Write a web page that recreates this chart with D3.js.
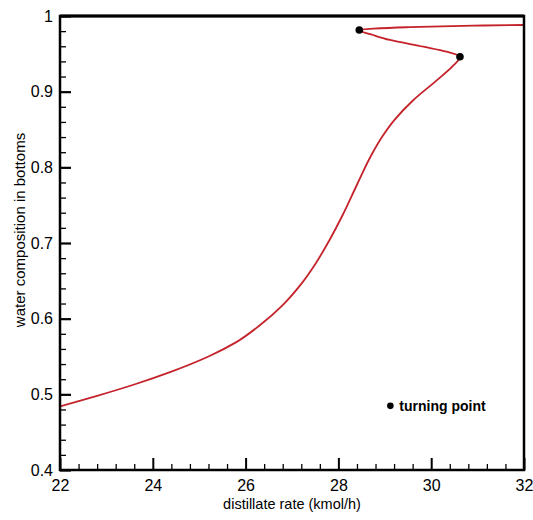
<!DOCTYPE html>
<html>
<head>
<meta charset="utf-8">
<script src="https://cdn.jsdelivr.net/npm/d3@7"></script>
<style>
  body { margin: 0; background: #fff; }
  text { font-family: "Liberation Sans", Arial, Helvetica, sans-serif; fill: #000; }
  .axis path.domain { display: none; }
  .axis line { stroke: #000; }
  .axis text { font-family: "Liberation Sans", Arial, Helvetica, sans-serif; font-size: 16px; fill: #000; }
</style>
</head>
<body>
<div id="chart"></div>
<script>
// curve, in drawing order (lower branch -> turning points -> upper branch)
// the bottoms composition rises all the way along it, so it is drawn as x = f(y)
var distillate = [22.00, 22.80, 23.60, 24.40, 25.20, 25.80, 26.30, 26.80, 27.20, 27.50,
                  27.80, 28.10, 28.40, 28.70, 28.95, 29.20, 29.60, 30.10, 30.45, 30.62,
                  30.33, 29.83, 29.11, 28.75, 28.45, 28.75, 29.47, 30.91, 31.98, 32.40];
var waterBottoms = [0.4840, 0.4980, 0.5130, 0.5300, 0.5500, 0.5690, 0.5910, 0.6180, 0.6460, 0.6720,
                    0.7030, 0.7380, 0.7770, 0.8150, 0.8410, 0.8620, 0.8880, 0.9140, 0.9330, 0.9462,
                    0.9528, 0.9594, 0.9683, 0.9749, 0.9815, 0.9832, 0.9851, 0.9872, 0.9881, 0.9883];

var turnX = [28.45, 30.62];
var turnY = [0.9815, 0.9462];

var xTicks = [22, 24, 26, 28, 30, 32];
var yTicks = [0.4, 0.5, 0.6, 0.7, 0.8, 0.9, 1];
var xMinorTicks = [22.4, 22.8, 23.2, 23.6, 24.4, 24.8, 25.2, 25.6, 26.4, 26.8, 27.2, 27.6,
                   28.4, 28.8, 29.2, 29.6, 30.4, 30.8, 31.2, 31.6];
var yMinorTicks = [0.42, 0.44, 0.46, 0.48, 0.52, 0.54, 0.56, 0.58, 0.62, 0.64, 0.66, 0.68,
                   0.72, 0.74, 0.76, 0.78, 0.82, 0.84, 0.86, 0.88, 0.92, 0.94, 0.96, 0.98];

var svgWidth = 533, svgHeight = 520;
var margin = { top: 16, right: 9, bottom: 50, left: 60 };
var width = svgWidth - margin.left - margin.right;
var height = svgHeight - margin.top - margin.bottom;

var svg = d3.select("#chart").append("svg")
  .attr("width", svgWidth)
  .attr("height", svgHeight);

var chartGroup = svg.append("g")
  .attr("transform", `translate(${margin.left}, ${margin.top})`);

var xScale = d3.scaleLinear().domain([22, 32]).range([0, width]);
var yScale = d3.scaleLinear().domain([0.4, 1]).range([height, 0]);

svg.append("defs").append("clipPath").attr("id", "plotclip")
  .append("rect").attr("width", width).attr("height", height);

// axes: ticks point into the plot
var xMinorAxis = d3.axisBottom(xScale).tickValues(xMinorTicks).tickSize(-6).tickFormat("");
var xAxis = d3.axisBottom(xScale).tickValues(xTicks).tickSize(-12).tickPadding(10).tickFormat(d3.format("d"));
var yMinorAxis = d3.axisLeft(yScale).tickValues(yMinorTicks).tickSize(-6).tickFormat("");
var yAxis = d3.axisLeft(yScale).tickValues(yTicks).tickSize(-11).tickPadding(7).tickFormat(d => d);

chartGroup.append("g").attr("class", "axis")
  .attr("transform", `translate(0, ${height})`)
  .call(xMinorAxis)
  .selectAll("line").attr("stroke-width", 1.3);

var gx = chartGroup.append("g").attr("class", "axis")
  .attr("transform", `translate(0, ${height})`)
  .call(xAxis);
gx.selectAll("line").attr("stroke-width", 2);

chartGroup.append("g").attr("class", "axis")
  .call(yMinorAxis)
  .selectAll("line").attr("stroke-width", 1.3);

var gy = chartGroup.append("g").attr("class", "axis")
  .call(yAxis);
gy.selectAll("line").attr("stroke-width", 2.2);

// the curve
var line = d3.line()
  .x((d, i) => xScale(distillate[i]))
  .y((d, i) => yScale(waterBottoms[i]))
  .curve(d3.curveMonotoneY);

chartGroup.append("path")
  .attr("d", line(distillate))
  .attr("clip-path", "url(#plotclip)")
  .attr("fill", "none")
  .attr("stroke", "#c4232b")
  .attr("stroke-width", 1.8);

// frame
chartGroup.append("rect")
  .attr("width", width).attr("height", height)
  .attr("fill", "none").attr("stroke", "#000").attr("stroke-width", 2.5);
chartGroup.append("line").attr("x1", 0).attr("x2", width).attr("y1", 0).attr("y2", 0)
  .attr("stroke", "#000").attr("stroke-width", 3.2);

// turning points
chartGroup.selectAll("circle.tp").data(turnX).enter().append("circle")
  .attr("class", "tp")
  .attr("cx", d => xScale(d))
  .attr("cy", (d, i) => yScale(turnY[i]))
  .attr("r", 3.8)
  .attr("fill", "#000");

// legend
chartGroup.append("circle")
  .attr("cx", xScale(29.12)).attr("cy", yScale(0.4848))
  .attr("r", 3.3).attr("fill", "#000");
chartGroup.append("text")
  .attr("x", xScale(29.12) + 9).attr("y", yScale(0.4848)).attr("dy", "0.35em")
  .style("font-size", "14px").style("font-weight", "bold")
  .text("turning point");

// axis titles
chartGroup.append("text")
  .attr("transform", `translate(${width / 2}, ${height + 39})`)
  .attr("text-anchor", "middle")
  .style("font-size", "14.5px")
  .text("distillate rate (kmol/h)");

svg.append("text")
  .attr("transform", "translate(25, 230) rotate(-90)")
  .attr("text-anchor", "middle")
  .style("font-size", "15px")
  .text("water composition in bottoms");
</script>
</body>
</html>
